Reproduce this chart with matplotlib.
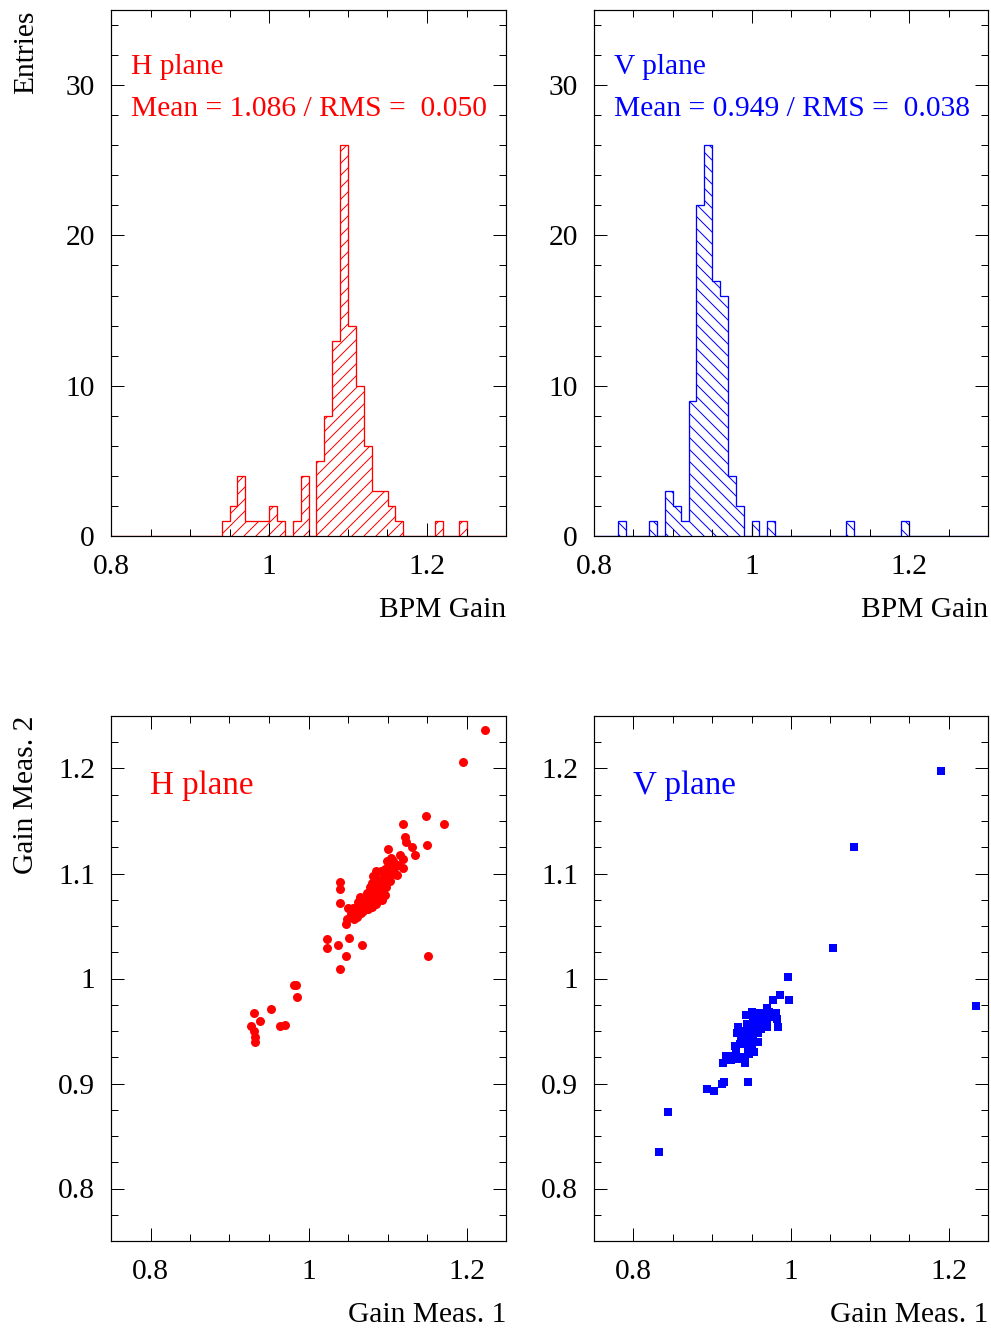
import numpy as np
import matplotlib
matplotlib.use("Agg")
import matplotlib.pyplot as plt
from matplotlib.ticker import MultipleLocator, FormatStrFormatter

plt.rcParams['font.family'] = ['Liberation Serif', 'DejaVu Serif']
plt.rcParams['hatch.linewidth'] = 1.0

# BPM gain histograms, 0.01 wide bins from 0.8 to 1.3
bin_edges = np.linspace(0.8, 1.3, 51)
h_counts = [0, 0, 0, 0, 0, 0, 0, 0, 0, 0,
            0, 0, 0, 0, 1, 2, 4, 1, 1, 1,
            2, 1, 0, 1, 4, 0, 5, 8, 13, 26,
            14, 10, 6, 3, 3, 2, 1, 0, 0, 0,
            0, 1, 0, 0, 1, 0, 0, 0, 0, 0]
v_counts = [0, 0, 0, 1, 0, 0, 0, 1, 0, 3,
            2, 1, 9, 22, 26, 17, 16, 4, 2, 0,
            1, 0, 1, 0, 0, 0, 0, 0, 0, 0,
            0, 0, 1, 0, 0, 0, 0, 0, 0, 1,
            0, 0, 0, 0, 0, 0, 0, 0, 0, 0]
h_stats = "Mean = 1.086 / RMS =  0.050"
v_stats = "Mean = 0.949 / RMS =  0.038"

# gain from two independent measurements, H plane
h_meas1 = [1.224, 1.196, 1.149, 1.172, 1.120, 1.122, 1.124, 1.131, 1.135, 1.150,
           1.101, 1.116, 1.120, 1.120, 1.107, 1.099, 1.112, 1.103, 1.085, 1.082,
           1.097, 1.086, 1.040, 1.040, 1.040, 1.050, 1.056, 1.049, 1.048, 1.058,
           1.063, 1.069, 1.069, 1.067, 1.072, 1.074, 1.078, 1.082, 1.088, 1.093,
           1.095, 1.101, 1.105, 1.065, 1.076, 1.086, 1.090, 1.080, 1.052, 1.061,
           1.024, 1.024, 1.037, 1.051, 1.068, 1.047, 1.040, 1.151, 0.982, 0.984,
           0.986, 0.953, 0.931, 0.939, 0.927, 0.931, 0.932, 0.932, 0.964, 0.970,
           1.071, 1.073, 1.077, 1.079, 1.083, 1.084, 1.087, 1.091, 1.094, 1.096,
           1.099, 1.102, 1.105, 1.108, 1.110, 1.089, 1.093, 1.080, 1.075, 1.066,
           1.062, 1.058, 1.054, 1.092, 1.097, 1.113, 1.104, 1.098, 1.085, 1.078]
h_meas2 = [1.237, 1.206, 1.155, 1.147, 1.147, 1.135, 1.130, 1.125, 1.118, 1.127,
           1.123, 1.118, 1.105, 1.114, 1.112, 1.112, 1.099, 1.093, 1.102, 1.098,
           1.080, 1.071, 1.092, 1.085, 1.072, 1.067, 1.067, 1.057, 1.052, 1.057,
           1.073, 1.064, 1.067, 1.062, 1.073, 1.081, 1.087, 1.084, 1.086, 1.091,
           1.097, 1.106, 1.110, 1.078, 1.078, 1.081, 1.083, 1.091, 1.059, 1.059,
           1.038, 1.029, 1.032, 1.039, 1.032, 1.021, 1.009, 1.021, 0.994, 0.994,
           0.982, 0.971, 0.967, 0.960, 0.955, 0.950, 0.944, 0.940, 0.955, 0.956,
           1.070, 1.076, 1.072, 1.080, 1.077, 1.089, 1.093, 1.088, 1.084, 1.092,
           1.100, 1.098, 1.103, 1.105, 1.100, 1.077, 1.075, 1.068, 1.066, 1.068,
           1.064, 1.062, 1.061, 1.102, 1.104, 1.108, 1.115, 1.087, 1.096, 1.083]

# V plane
v_meas1 = [1.190, 1.080, 1.053, 1.235, 0.996, 0.997, 0.986, 0.977, 0.969, 0.981,
           0.982, 0.983, 0.970, 0.959, 0.951, 0.943, 0.933, 0.932, 0.954, 0.943,
           0.950, 0.958, 0.948, 0.939, 0.929, 0.945, 0.942, 0.933, 0.924, 0.917,
           0.914, 0.915, 0.912, 0.894, 0.902, 0.945, 0.844, 0.833, 0.964, 0.960,
           0.969, 0.952, 0.937, 0.952, 0.955, 0.948, 0.940, 0.935, 0.945, 0.952,
           0.960, 0.957, 0.963, 0.972, 0.965, 0.944, 0.938, 0.930, 0.925, 0.920,
           0.935, 0.950, 0.958, 0.962, 0.975, 0.953, 0.947, 0.942]
v_meas2 = [1.198, 1.125, 1.029, 0.974, 1.001, 0.980, 0.984, 0.980, 0.972, 0.967,
           0.961, 0.954, 0.954, 0.967, 0.968, 0.965, 0.954, 0.948, 0.954, 0.948,
           0.946, 0.940, 0.940, 0.940, 0.936, 0.930, 0.924, 0.923, 0.922, 0.926,
           0.920, 0.901, 0.900, 0.895, 0.893, 0.901, 0.873, 0.835, 0.964, 0.957,
           0.961, 0.961, 0.945, 0.941, 0.950, 0.952, 0.944, 0.938, 0.935, 0.945,
           0.960, 0.963, 0.967, 0.968, 0.955, 0.957, 0.950, 0.930, 0.926, 0.922,
           0.925, 0.938, 0.948, 0.952, 0.963, 0.930, 0.928, 0.920]

RED = (1, 0, 0)
BLUE = (0, 0, 1)
FS = 29.5

fig = plt.figure(figsize=(991 / 72, 1329 / 72), dpi=72)
ax_hh = fig.add_axes([111 / 991, 1 - 536 / 1329, 395 / 991, 526 / 1329])
ax_hv = fig.add_axes([594 / 991, 1 - 536 / 1329, 394 / 991, 526 / 1329])
ax_sh = fig.add_axes([111 / 991, 1 - 1241 / 1329, 395 / 991, 525 / 1329])
ax_sv = fig.add_axes([594 / 991, 1 - 1241 / 1329, 394 / 991, 525 / 1329])


def style_axes(ax, xmajor, xminor, ymajor, yminor, fmt_y):
    ax.xaxis.set_major_locator(MultipleLocator(xmajor))
    ax.xaxis.set_minor_locator(MultipleLocator(xminor))
    ax.yaxis.set_major_locator(MultipleLocator(ymajor))
    ax.yaxis.set_minor_locator(MultipleLocator(yminor))
    ax.xaxis.set_major_formatter(FormatStrFormatter('%g'))
    ax.yaxis.set_major_formatter(FormatStrFormatter(fmt_y))
    ax.tick_params(which='both', direction='in', top=True, right=True,
                   width=1.0, labelsize=FS)
    ax.tick_params(which='major', length=13)
    ax.tick_params(which='minor', length=7)
    ax.tick_params(axis='x', which='major', pad=18)
    ax.tick_params(axis='y', which='major', pad=16)
    for sp in ax.spines.values():
        sp.set_linewidth(1.2)


# histograms
for ax, counts, col, hatch, name, stats in [
        (ax_hh, h_counts, RED, '//', 'H plane', h_stats),
        (ax_hv, v_counts, BLUE, '\\\\', 'V plane', v_stats)]:
    ax.stairs(counts, bin_edges, fill=True, facecolor='none', edgecolor=col,
              hatch=hatch, linewidth=1.3)
    ax.set_xlim(0.8, 1.3)
    ax.set_ylim(0, 35)
    style_axes(ax, 0.2, 0.05, 10, 2, '%g')
    ax.text(0.05, 0.891, name, color=col, fontsize=FS, transform=ax.transAxes,
            va='center', ha='left')
    ax.text(0.05, 0.811, stats, color=col, fontsize=FS, transform=ax.transAxes,
            va='center', ha='left')
    ax.set_xlabel('BPM Gain', fontsize=FS, ha='right', va='top')
    ax.xaxis.set_label_coords(1.0, -0.116)

ax_hh.set_ylabel('Entries', fontsize=FS, ha='right', va='baseline')
ax_hh.yaxis.set_label_coords(-0.197, 1.0)

# scatter plots
ax_sh.plot(h_meas1, h_meas2, 'o', color=RED, markersize=9, markeredgewidth=0)
ax_sv.plot(v_meas1, v_meas2, 's', color=BLUE, markersize=8, markeredgewidth=0)
for ax, col, name in [(ax_sh, RED, 'H plane'), (ax_sv, BLUE, 'V plane')]:
    ax.set_xlim(0.75, 1.25)
    ax.set_ylim(0.75, 1.25)
    style_axes(ax, 0.2, 0.05, 0.1, 0.025, '%g')
    ax.text(0.1, 0.868, name, color=col, fontsize=33, transform=ax.transAxes,
            va='center', ha='left')
    ax.set_xlabel('Gain Meas. 1', fontsize=FS, ha='right', va='top')
    ax.xaxis.set_label_coords(1.0, -0.116)

ax_sh.set_ylabel('Gain Meas. 2', fontsize=FS, ha='right', va='baseline')
ax_sh.yaxis.set_label_coords(-0.197, 1.0)

fig.savefig('out.png', dpi=72)
